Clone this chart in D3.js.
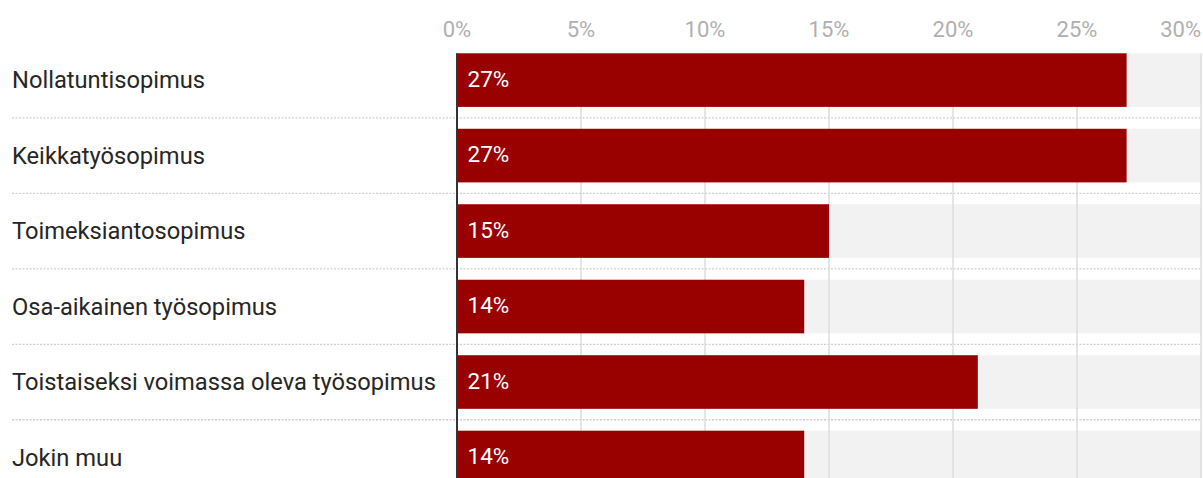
<!DOCTYPE html>
<html>
<head>
<meta charset="utf-8">
<script src="https://cdn.jsdelivr.net/npm/d3@7"></script>
<style>
  html, body { margin: 0; padding: 0; background: #fff; }
  svg { display: block; font-family: Roboto, "Noto Sans", sans-serif; }
</style>
</head>
<body>
<div class="svg-container"></div>
<script>
// data
const categories = [
  "Nollatuntisopimus",
  "Keikkatyösopimus",
  "Toimeksiantosopimus",
  "Osa-aikainen työsopimus",
  "Toistaiseksi voimassa oleva työsopimus",
  "Jokin muu"
];
const values = [27, 27, 15, 14, 21, 14];
const tickValues = [0, 5, 10, 15, 20, 25, 30];

const width = 1203, height = 478;
const plotLeft = 457, plotRight = 1201;
const plotTop = 53.3;

const svg = d3.select("div.svg-container").append("svg")
    .attr("width", width)
    .attr("height", height);

const x = d3.scaleLinear().domain([0, 30]).range([plotLeft, plotRight]);
const y = d3.scaleBand()
    .domain(categories)
    .range([plotTop, plotTop + 5 * 75.5 + 53.5])
    .paddingInner(0.29)
    .paddingOuter(0);

const step = y.step(), bw = y.bandwidth();

// grey background bands
svg.append("g").selectAll("rect")
    .data(categories)
    .join("rect")
    .attr("x", x(0))
    .attr("y", d => y(d))
    .attr("width", x(30) - x(0))
    .attr("height", bw)
    .attr("fill", "#f2f2f2");

// dotted separators
svg.append("g").selectAll("line")
    .data(categories.slice(0, -1))
    .join("line")
    .attr("x1", 12)
    .attr("x2", plotRight)
    .attr("y1", d => y(d) + bw + (step - bw) / 2)
    .attr("y2", d => y(d) + bw + (step - bw) / 2)
    .attr("stroke", "#cfcfcf")
    .attr("stroke-width", 1.3)
    .attr("stroke-dasharray", "2,1.5");

// vertical gridlines
svg.append("g").selectAll("line")
    .data(tickValues.slice(1))
    .join("line")
    .attr("x1", d => x(d))
    .attr("x2", d => x(d))
    .attr("y1", plotTop)
    .attr("y2", height)
    .attr("stroke", "#dcdcdc")
    .attr("stroke-width", 1.5);

// bars
svg.append("g").selectAll("rect")
    .data(categories)
    .join("rect")
    .attr("x", x(0))
    .attr("y", d => y(d))
    .attr("width", (d, i) => x(values[i]) - x(0))
    .attr("height", bw)
    .attr("fill", "#990000");

// zero line
svg.append("line")
    .attr("x1", x(0)).attr("x2", x(0))
    .attr("y1", plotTop).attr("y2", height)
    .attr("stroke", "#333")
    .attr("stroke-width", 2);

// tick labels
svg.append("g").selectAll("text")
    .data(tickValues)
    .join("text")
    .attr("x", d => x(d))
    .attr("y", 36.5)
    .attr("text-anchor", d => d === 30 ? "end" : "middle")
    .attr("fill", "#b0b0b0")
    .attr("font-size", 22)
    .text(d => d + "%");

// category labels
svg.append("g").selectAll("text")
    .data(categories)
    .join("text")
    .attr("x", 12)
    .attr("y", d => y(d) + bw / 2)
    .attr("dy", "0.35em")
    .attr("fill", "#262626")
    .attr("font-size", 23.7)
    .text(d => d);

// value labels
svg.append("g").selectAll("text")
    .data(categories)
    .join("text")
    .attr("x", x(0) + 10.5)
    .attr("y", d => y(d) + bw / 2)
    .attr("dy", "0.3em")
    .attr("fill", "#fff")
    .attr("font-size", 22.5)
    .text((d, i) => values[i] + "%");
</script>
</body>
</html>
